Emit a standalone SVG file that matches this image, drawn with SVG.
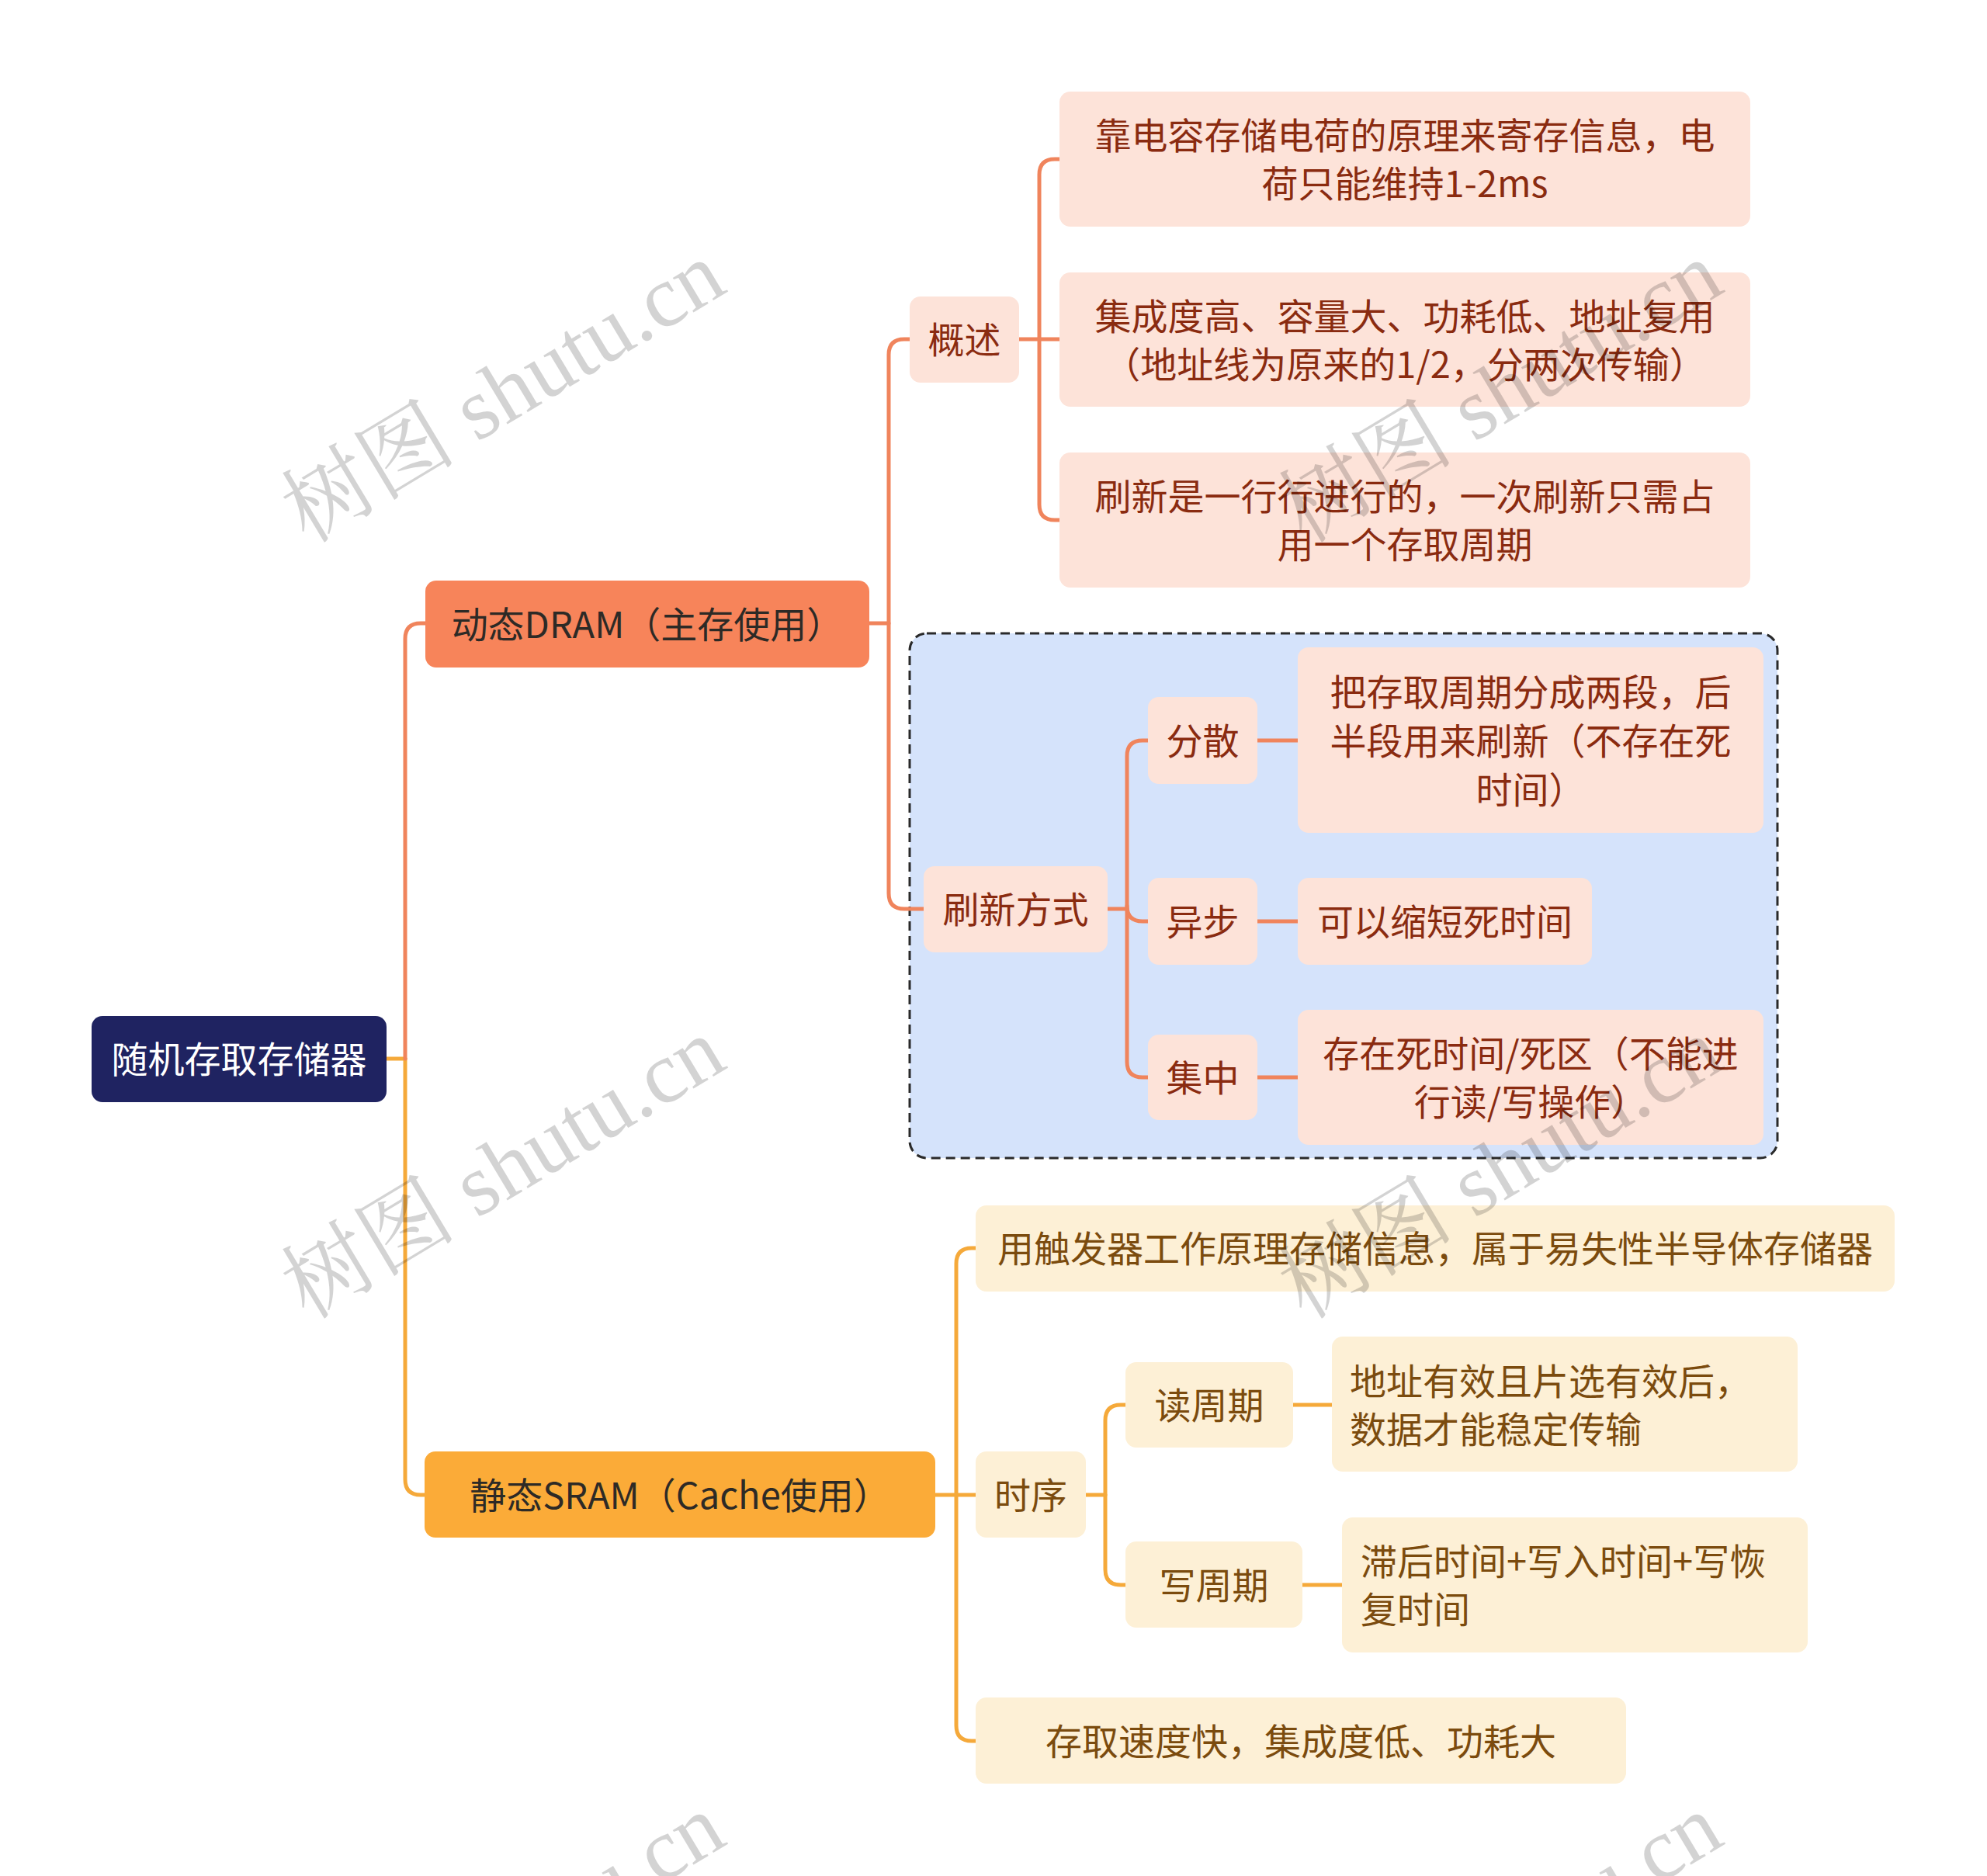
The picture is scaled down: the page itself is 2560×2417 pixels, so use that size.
<svg xmlns="http://www.w3.org/2000/svg" width="2560" height="2417" viewBox="0 0 2560 2417">
<style>
text{font-family:"Noto Sans CJK SC","Noto Sans",sans-serif;font-size:47px;dominant-baseline:central}
.c{text-anchor:middle}
.root rect{fill:#1f2361}
.root text{fill:#ffffff}
.l1d rect{fill:#f7845a}
.l1s rect{fill:#fbab38}
.l1d text,.l1s text{fill:#2d2a26}
.pd rect{fill:#fde3d9}
.pd text{fill:#8a2b10}
.py rect{fill:#fdf0d6}
.py text{fill:#7b4b0e}
.cd{fill:none;stroke:#f0845c;stroke-width:5;stroke-linecap:round}
.cs{fill:none;stroke:#f5a93a;stroke-width:5;stroke-linecap:round}
.wm{font-family:"Liberation Serif","Noto Serif CJK SC","Noto Sans CJK SC",serif;font-size:113px;fill:#000;opacity:0.17;text-anchor:middle}
</style>
<rect width="2560" height="2417" fill="#ffffff"/>

<g id="frame-refresh">
<rect x="1172" y="816" width="1118" height="676" rx="22" fill="#d5e3fb" stroke="#2a2a2a" stroke-width="3" stroke-dasharray="12 7"/>
</g>

<g id="connectors">
<path class="cs" d="M497,1364 H522"/>
<path class="cs" d="M522,1364 V1906 Q522,1926 542,1926 H547"/>
<path class="cd" d="M522,1364 V823 Q522,803 542,803 H548"/>
<path class="cd" d="M1120,803 H1145"/>
<path class="cd" d="M1172,437 H1165 Q1145,437 1145,457 V1151 Q1145,1171 1165,1171 H1190"/>
<path class="cd" d="M1313,437 H1365"/>
<path class="cd" d="M1365,205 H1359 Q1339,205 1339,225 V650 Q1339,670 1359,670 H1365"/>
<path class="cd" d="M1427,1171 H1452"/>
<path class="cd" d="M1479,954 H1472 Q1452,954 1452,974 V1368 Q1452,1388 1472,1388 H1479"/>
<path class="cd" d="M1452,1167 Q1452,1187 1472,1187 H1479"/>
<path class="cd" d="M1620,954 H1672"/>
<path class="cd" d="M1620,1187 H1672"/>
<path class="cd" d="M1620,1388 H1672"/>
<path class="cs" d="M1205,1926 H1257"/>
<path class="cs" d="M1257,1608 H1252 Q1232,1608 1232,1628 V2223 Q1232,2243 1252,2243 H1257"/>
<path class="cs" d="M1399,1926 H1424"/>
<path class="cs" d="M1450,1810 H1444 Q1424,1810 1424,1830 V2022 Q1424,2042 1444,2042 H1450"/>
<path class="cs" d="M1666,1810 H1716"/>
<path class="cs" d="M1678,2042 H1729"/>
</g>

<g id="root" class="root">
<rect x="118" y="1309" width="380" height="111" rx="14"/>
<text class="c" x="308" y="1361">随机存取存储器</text>
</g>

<g id="dram" class="l1d">
<rect x="548" y="748" width="572" height="112" rx="14"/>
<text class="c" x="834" y="801">动态DRAM（主存使用）</text>
</g>

<g id="sram" class="l1s">
<rect x="547" y="1870" width="658" height="111" rx="14"/>
<text class="c" x="876" y="1923">静态SRAM（Cache使用）</text>
</g>

<g id="overview" class="pd">
<rect x="1172" y="382" width="141" height="111" rx="14"/>
<text class="c" x="1242.5" y="434">概述</text>
</g>

<g id="ov1" class="pd">
<rect x="1365" y="118" width="890" height="174" rx="14"/>
<text class="c" x="1810" y="171">靠电容存储电荷的原理来寄存信息，电</text>
<text class="c" x="1810" y="233">荷只能维持1-2ms</text>
</g>

<g id="ov2" class="pd">
<rect x="1365" y="351" width="890" height="173" rx="14"/>
<text class="c" x="1810" y="404">集成度高、容量大、功耗低、地址复用</text>
<text class="c" x="1810" y="466">（地址线为原来的1/2，分两次传输）</text>
</g>

<g id="ov3" class="pd">
<rect x="1365" y="583" width="890" height="174" rx="14"/>
<text class="c" x="1810" y="636">刷新是一行行进行的，一次刷新只需占</text>
<text class="c" x="1810" y="698">用一个存取周期</text>
</g>

<g id="refresh" class="pd">
<rect x="1190" y="1116" width="237" height="111" rx="14"/>
<text class="c" x="1308.5" y="1168">刷新方式</text>
</g>

<g id="scatter" class="pd">
<rect x="1479" y="898" width="141" height="112" rx="14"/>
<text class="c" x="1549.5" y="951">分散</text>
</g>

<g id="async" class="pd">
<rect x="1479" y="1131" width="141" height="112" rx="14"/>
<text class="c" x="1549.5" y="1184">异步</text>
</g>

<g id="central" class="pd">
<rect x="1479" y="1333" width="141" height="110" rx="14"/>
<text class="c" x="1549.5" y="1385">集中</text>
</g>

<g id="scatter-desc" class="pd">
<rect x="1672" y="834" width="600" height="239" rx="14"/>
<text class="c" x="1972" y="888">把存取周期分成两段，后</text>
<text class="c" x="1972" y="951">半段用来刷新（不存在死</text>
<text class="c" x="1972" y="1014">时间）</text>
</g>

<g id="async-desc" class="pd">
<rect x="1672" y="1131" width="379" height="112" rx="14"/>
<text class="c" x="1861.5" y="1184">可以缩短死时间</text>
</g>

<g id="central-desc" class="pd">
<rect x="1672" y="1301" width="600" height="174" rx="14"/>
<text class="c" x="1972" y="1354">存在死时间/死区（不能进</text>
<text class="c" x="1972" y="1416">行读/写操作）</text>
</g>

<g id="sram1" class="py">
<rect x="1257" y="1553" width="1184" height="111" rx="14"/>
<text class="c" x="1849" y="1605">用触发器工作原理存储信息，属于易失性半导体存储器</text>
</g>

<g id="timing" class="py">
<rect x="1257" y="1870" width="142" height="111" rx="14"/>
<text class="c" x="1328" y="1923">时序</text>
</g>

<g id="sram3" class="py">
<rect x="1257" y="2187" width="838" height="111" rx="14"/>
<text class="c" x="1676" y="2240">存取速度快，集成度低、功耗大</text>
</g>

<g id="read" class="py">
<rect x="1450" y="1755" width="216" height="110" rx="14"/>
<text class="c" x="1558" y="1807">读周期</text>
</g>

<g id="write" class="py">
<rect x="1450" y="1986" width="228" height="111" rx="14"/>
<text class="c" x="1564" y="2039">写周期</text>
</g>

<g id="read-desc" class="py">
<rect x="1716" y="1722" width="600" height="174" rx="14"/>
<text x="1739" y="1776">地址有效且片选有效后，</text>
<text x="1739" y="1838">数据才能稳定传输</text>
</g>

<g id="write-desc" class="py">
<rect x="1729" y="1955" width="600" height="174" rx="14"/>
<text x="1753" y="2008">滞后时间+写入时间+写恢</text>
<text x="1753" y="2070">复时间</text>
</g>

<g id="watermark">
<text class="wm" transform="translate(648,505) rotate(-31)">树图 shutu.cn</text>
<text class="wm" transform="translate(648,1505) rotate(-31)">树图 shutu.cn</text>
<text class="wm" transform="translate(1933,505) rotate(-31)">树图 shutu.cn</text>
<text class="wm" transform="translate(1933,1505) rotate(-31)">树图 shutu.cn</text>
<text class="wm" transform="translate(648,2505) rotate(-31)">树图 shutu.cn</text>
<text class="wm" transform="translate(1933,2505) rotate(-31)">树图 shutu.cn</text>
</g>
</svg>
